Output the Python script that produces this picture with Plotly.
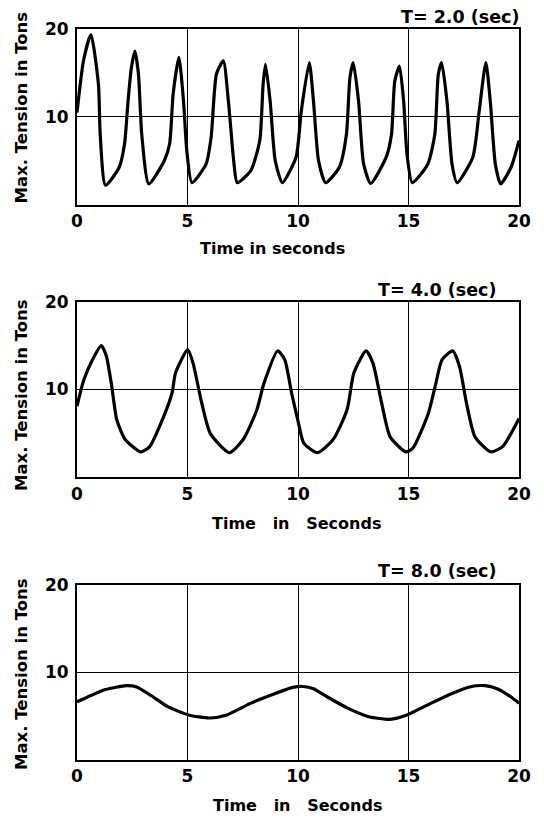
import plotly.graph_objects as go

# ---------------- data ----------------
t_T2 = [0.0, 0.3, 0.63, 0.97, 1.05, 1.29, 1.91, 2.15, 2.31, 2.46, 2.62, 2.78, 2.93, 3.25,
        3.95, 4.19, 4.35, 4.61, 4.82, 4.97, 5.2, 5.84, 6.07, 6.31, 6.62, 6.85, 7.09, 7.25,
        7.87, 8.27, 8.42, 8.53, 8.74, 8.97, 9.29, 9.91, 10.15, 10.51, 10.7, 10.93, 11.25,
        11.87, 12.19, 12.35, 12.5, 12.74, 12.97, 13.29, 13.99, 14.23, 14.38, 14.59, 14.78,
        14.93, 15.17, 15.87, 16.19, 16.35, 16.5, 16.74, 16.97, 17.2, 17.91, 18.2, 18.5,
        18.7, 18.93, 19.17, 19.64, 20.0]
y_T2 = [10.5, 16.5, 19.4, 13.7, 8.0, 2.2, 4.25, 6.9, 11.8, 15.6, 17.5, 14.9, 8.0, 2.35,
        5.0, 6.9, 12.6, 16.8, 11.8, 6.1, 2.5, 4.6, 7.7, 14.9, 16.4, 11.8, 5.0, 2.5,
        3.9, 7.3, 13.7, 16.0, 11.8, 5.0, 2.5, 5.4, 10.7, 16.2, 11.8, 5.0, 2.5,
        4.25, 8.0, 14.5, 16.2, 11.8, 4.6, 2.4, 5.4, 8.0, 14.1, 15.8, 11.8,
        5.8, 2.5, 4.6, 8.0, 14.9, 16.2, 11.8, 4.6, 2.5, 5.4, 10.7, 16.2,
        11.8, 4.6, 2.35, 4.25, 7.3]

t_T4 = [0.0, 0.31, 0.7, 1.1, 1.33, 1.57, 1.8, 2.19, 2.9, 3.29, 3.92, 4.3, 4.46, 5.01, 5.25,
        5.64, 6.03, 6.9, 7.52, 8.14, 8.46, 9.08, 9.4, 9.71, 10.02, 10.26, 10.88, 11.59,
        12.22, 12.53, 13.08, 13.39, 13.78, 14.17, 14.88, 15.19, 15.9, 16.21, 16.52, 17.0,
        17.31, 17.62, 18.01, 18.72, 19.26, 20.0]
y_T4 = [8.1, 11.1, 13.4, 15.0, 13.8, 10.4, 6.55, 4.27, 2.9, 3.5, 6.9, 9.6, 11.9, 14.55, 13.0,
        8.5, 5.0, 2.8, 4.3, 7.7, 10.7, 14.4, 13.4, 9.6, 6.2, 3.9, 2.8, 4.3,
        7.7, 11.9, 14.4, 13.0, 8.5, 4.6, 2.9, 3.3, 7.3, 10.4, 13.4, 14.4,
        12.6, 8.5, 4.6, 2.9, 3.5, 6.7]

t_T8 = [0.0, 0.66, 1.29, 2.23, 2.7, 3.33, 4.11, 5.05, 6.0, 6.78, 7.87, 8.97, 9.76, 10.23,
        10.7, 11.33, 12.27, 13.2, 14.15, 14.93, 16.03, 16.97, 17.76, 18.46, 19.01, 19.64, 20.0]
y_T8 = [6.65, 7.4, 8.05, 8.5, 8.35, 7.4, 6.1, 5.15, 4.8, 5.15, 6.5, 7.6, 8.3, 8.4,
        8.15, 7.2, 5.9, 4.95, 4.65, 5.15, 6.5, 7.6, 8.35, 8.5, 8.15, 7.2, 6.5]

panel_titles = ["T= 2.0 (sec)", "T= 4.0 (sec)", "T= 8.0 (sec)"]
NB = "\u00a0"
x_titles = ["Time in seconds",
            "Time" + NB * 3 + "in" + NB * 3 + "Seconds",
            "Time" + NB * 3 + "in" + NB * 3 + "Seconds"]
y_title = "Max. Tension in Tons"
x_tickvals = [0, 5, 10, 15, 20]
y_tickvals = [10, 20]

# ---------------- layout ----------------
W, H = 544, 820
L, R, T, B = 77, 25, 29, 60
plot_h = H - T - B
plot_w = W - L - R


def py(px):
    return (H - B - px) / plot_h


def pxx(px):
    return (px - L) / plot_w


domains = [(py(204.5), py(29.3)), (py(477.3), py(301.7)), (py(760), py(585))]

fig = go.Figure()
series = [(t_T2, y_T2), (t_T4, y_T4), (t_T8, y_T8)]
FONT = "DejaVu Sans"

for i, (tx, ty) in enumerate(series):
    n = "" if i == 0 else str(i + 1)
    fig.add_trace(go.Scatter(x=tx, y=ty, mode="lines", xaxis="x" + n, yaxis="y" + n,
                             line=dict(color="black", width=3.2, shape="spline", smoothing=0.6),
                             showlegend=False, hoverinfo="skip"))
    axis_common = dict(showline=True, mirror=True, linecolor="black", linewidth=2,
                       showgrid=True, gridcolor="black", gridwidth=1, zeroline=False,
                       ticks="", tickfont=dict(family=FONT, size=17, color="black", weight="bold"))
    fig.layout["xaxis" + n] = dict(domain=[0, 1], range=[0, 20], tickvals=x_tickvals,
                                   anchor="y" + n, ticklabelstandoff=0, **axis_common)
    fig.layout["yaxis" + n] = dict(domain=list(domains[i]), range=[0, 20], tickvals=y_tickvals,
                                   anchor="x" + n, ticklabelstandoff=3, **axis_common)

ann = []
title_y = [17, 290, 571]
title_right = [521, 498, 498]
xtitle_y = [248.5, 523.5, 806]
xtitle_cx = [272.5, 296.5, 297]
ytitle_cy = [107.5, 395, 674]
for i in range(3):
    ann.append(dict(text=panel_titles[i], x=pxx(title_right[i]), y=py(title_y[i]),
                    xref="paper", yref="paper", xanchor="right", yanchor="middle", showarrow=False,
                    font=dict(family=FONT, size=17.5, color="black", weight="bold")))
    ann.append(dict(text=x_titles[i], x=pxx(xtitle_cx[i]), y=py(xtitle_y[i]),
                    xref="paper", yref="paper", xanchor="center", yanchor="middle", showarrow=False,
                    font=dict(family=FONT, size=16, color="black", weight="bold")))
    ann.append(dict(text=y_title, x=pxx(21), y=py(ytitle_cy[i]),
                    xref="paper", yref="paper", xanchor="center", yanchor="middle",
                    textangle=-90, showarrow=False,
                    font=dict(family=FONT, size=16.5, color="black", weight="bold")))

fig.update_layout(width=W, height=H, margin=dict(l=L, r=R, t=T, b=B, autoexpand=False),
                  paper_bgcolor="white", plot_bgcolor="white", annotations=ann,
                  hovermode=False)

fig.write_html("out.html", config={"displayModeBar": False, "staticPlot": True},
               post_script="document.body.style.margin='0';document.body.style.overflow='hidden';")
